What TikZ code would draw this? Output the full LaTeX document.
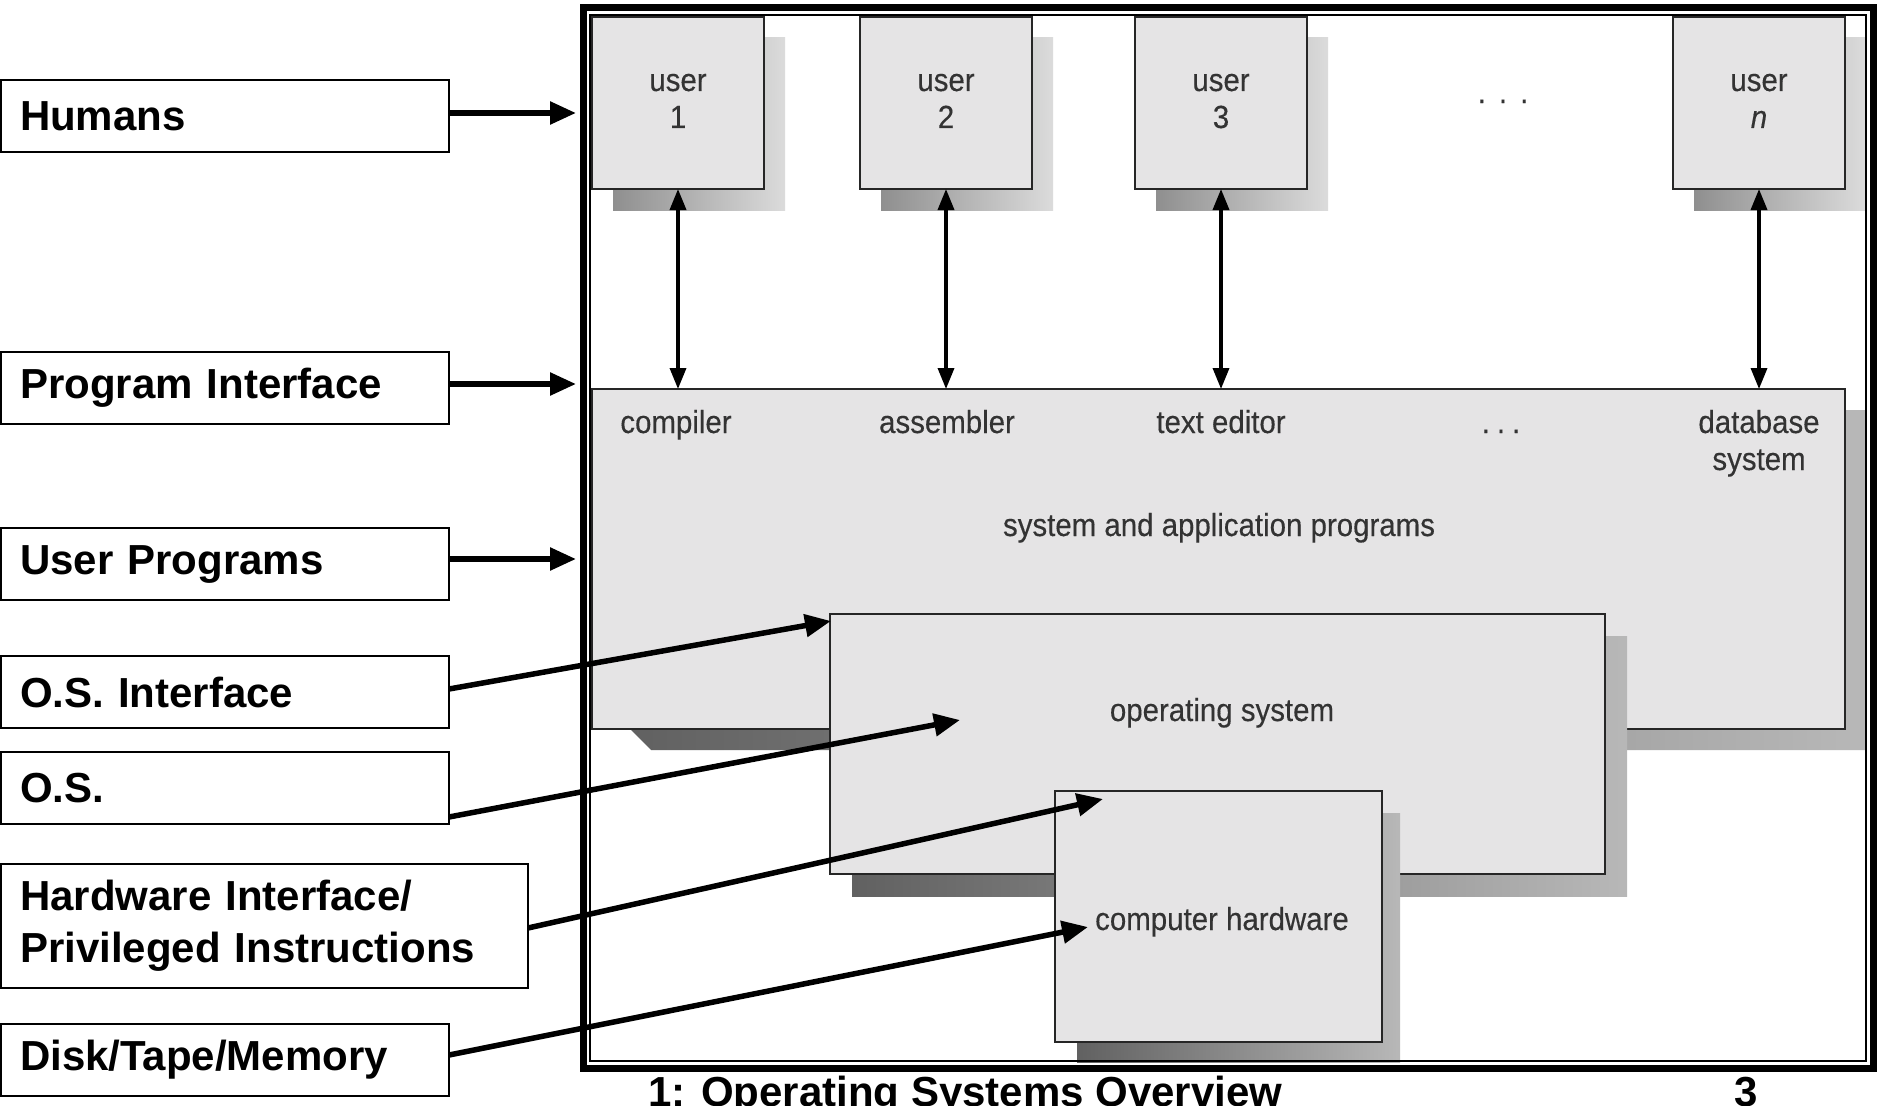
\documentclass[tikz,border=0pt]{standalone}
\usepackage{fontspec}
\setmainfont{Liberation Sans}
\newfontfamily\narrowfont[FakeStretch=0.92,FakeBold=0.3]{Liberation Sans}
\usetikzlibrary{arrows.meta,calc}
\definecolor{boxgray}{HTML}{E5E4E5}
\definecolor{txtgray}{HTML}{333333}
\begin{document}
\begin{tikzpicture}[x=1pt,y=-1pt,
  gbox/.style={draw=black!85, line width=2.5pt, fill=boxgray, rectangle, inner sep=0pt, outer sep=0pt, anchor=north west},
  ubox/.style={gbox, minimum width=172pt, minimum height=172pt},
  lbl/.style={draw=black, line width=2pt, fill=white, rectangle, anchor=north west, inner xsep=19pt, inner ysep=0pt, outer sep=0pt, align=left, font=\fontsize{42}{52}\selectfont\bfseries, minimum height=72pt, text width=410pt},
  itxt/.style={font=\narrowfont\fontsize{32}{37}\selectfont, text=txtgray, inner sep=0pt, anchor=base},
  larrow/.style={line width=5.5pt, -{Triangle[length=26pt,width=22pt]}},
  varrow/.style={line width=3.5pt, {Triangle[length=21pt,width=16pt]}-{Triangle[length=21pt,width=16pt]}},
  shd/.style={left color=black!44, right color=black!14},
  bigshd/.style={left color=black!62, right color=black!28},
  foottxt/.style={inner sep=0pt, font=\fontsize{42}{50}\selectfont\bfseries}
]
\useasboundingbox (0,0) rectangle (1878,1105);
\fill[white] (0,0) rectangle (1878,1105);

% user box shadows
\shade[shd] (613,38) rectangle (785,210);
\shade[shd] (881,38) rectangle (1053,210);
\shade[shd] (1156,38) rectangle (1328,210);
\shade[shd] (1694,38) rectangle (1865,210);

% user boxes
\node[ubox] (u1) at (592,17) {};
\node[ubox] (u2) at (860,17) {};
\node[ubox] (u3) at (1135,17) {};
\node[ubox] (un) at (1673,17) {};

% programs layer
\shade[bigshd] (630,410) -- (630,729) -- (651,750) -- (1865,750) -- (1865,410) -- cycle;
\node[gbox, minimum width=1253pt, minimum height=340pt] (prog) at (592,389) {};

% operating system layer
\shade[bigshd] (852,636) rectangle (1627,896);
\node[gbox, minimum width=775pt, minimum height=260pt] (os) at (830,614) {};

% hardware layer
\shade[bigshd] (1077,813) rectangle (1400,1062);
\node[gbox, minimum width=327pt, minimum height=251pt] (hw) at (1055,791) {};

% frame
\draw[line width=7pt] (583.5,8) rectangle (1873.5,1068.5);
\draw[line width=2pt] (590,15) rectangle (1866,1061);

% texts inside
\node[itxt] (u1a) at (678,91) {user};
\node[itxt] (u1b) at (678,128) {1};
\node[itxt] (u2a) at (946,91) {user};
\node[itxt] (u2b) at (946,128) {2};
\node[itxt] (u3a) at (1221,91) {user};
\node[itxt] (u3b) at (1221,128) {3};
\node[itxt] (una) at (1759,91) {user};
\node[itxt] (unb) at (1759,128) {\itshape n};
\node[itxt] (dots1) at (1503,103) {.\hspace{13pt}.\hspace{13pt}.};

\node[itxt] (comp) at (676,433) {compiler};
\node[itxt] (asm) at (947,433) {assembler};
\node[itxt] (ted) at (1221,433) {text editor};
\node[itxt] (dots2) at (1501,433) {.\hspace{7pt}.\hspace{7pt}.};
\node[itxt] (dba) at (1759,433) {database};
\node[itxt] (dbb) at (1759,470) {system};
\node[itxt] (sap) at (1219,536) {system and application programs};
\node[itxt] (ost) at (1222,721) {operating system};
\node[itxt] (cht) at (1222,930) {computer hardware};

% vertical arrows
\draw[varrow] (u1.south) -- (u1.south |- prog.north);
\draw[varrow] (u2.south) -- (u2.south |- prog.north);
\draw[varrow] (u3.south) -- (u3.south |- prog.north);
\draw[varrow] (un.south) -- (un.south |- prog.north);

% left labels
\node[lbl] (hum) at (1,80) {Humans};
\node[lbl] (pif) at (1,352) {\raisebox{-3pt}{Program Interface}};
\node[lbl] (upr) at (1,528) {\raisebox{-4pt}{User Programs}};
\node[lbl] (osi) at (1,656) {O.S. Interface};
\node[lbl] (oss) at (1,752) {O.S.};
\node[lbl, text width=489pt, minimum height=124pt] (hwi) at (1,864) {\raisebox{-4pt}{Hardware Interface/}\\\raisebox{-4pt}{Privileged Instructions}};
\node[lbl] (dtm) at (1,1024) {\raisebox{-5pt}{Disk/Tape/Memory}};

% arrow tips
\coordinate (tHum) at (576,113);
\coordinate (tPif) at (576,384);
\coordinate (tUpr) at (576,559);
\coordinate (tOsi) at (831,621);
\coordinate (tOss) at (960,720);
\coordinate (tHwi) at (1103,799);
\coordinate (tDtm) at (1088,927);

\draw[larrow] (hum.east |- tHum) -- (tHum);
\draw[larrow] (pif.east |- tPif) -- (tPif);
\draw[larrow] (upr.east |- tUpr) -- (tUpr);
\draw[larrow] ($(osi.east)+(0,-3)$) -- (tOsi);
\draw[larrow] ($(oss.south east)+(0,-7)$) -- (tOss);
\draw[larrow] ($(hwi.east)+(0,2)$) -- (tHwi);
\draw[larrow] ($(dtm.east)+(0,-5)$) -- (tDtm);

% footer
\node[foottxt, anchor=base west] (foot) at (648,1106) {1: Operating Systems Overview};
\node[foottxt, anchor=base] (pg) at (1746,1106) {3};
\end{tikzpicture}
\end{document}
